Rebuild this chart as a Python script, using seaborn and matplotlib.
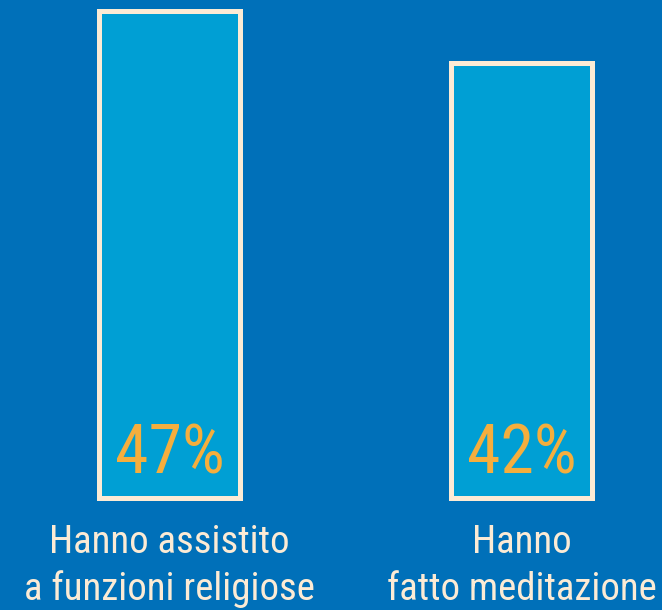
import matplotlib
matplotlib.use("Agg")
import matplotlib.pyplot as plt
import matplotlib.transforms as mtransforms
import seaborn as sns
import pandas as pd
from matplotlib import font_manager

categories = ["Hanno assistito\na funzioni religiose", "Hanno\nfatto meditazione"]
values = [47, 42]
value_labels = ["47%", "42%"]

BG = "#0070B9"
FILL = "#009FD4"
EDGE = "#FCEBD5"
ORANGE = "#F5AE3D"

sns.set_theme(style="white")
plt.rcParams["font.family"] = ["DejaVu Sans"]

# choose narrowest available font
cands = []
for f in font_manager.fontManager.ttflist:
    n = f.name.lower()
    st = str(f.stretch).lower()
    if "narrow" in n or "condensed" in n or "condensed" in st or "narrow" in st:
        if str(f.weight) in ("400", "normal", "regular", "book", "500", "medium") or f.weight == 400:
            if f.style == "normal":
                cands.append(f)
font = None
pref = ["liberation sans narrow", "roboto condensed", "open sans condensed", "noto sans condensed", "dejavu sans"]
for p in pref:
    for f in cands:
        if f.name.lower().startswith(p):
            font = font_manager.FontProperties(fname=f.fname)
            break
    if font is not None:
        break
if font is None:
    font = font_manager.FontProperties(family="DejaVu Sans", stretch="condensed")

df = pd.DataFrame({"cat": categories, "val": values})

fig = plt.figure(figsize=(6.62, 6.10), dpi=100, facecolor=BG)
ax = fig.add_axes([0, 112.5 / 610, 1, 1 - 112.5 / 610])
ax.set_facecolor(BG)

sns.barplot(data=df, x="cat", y="val", ax=ax, color=FILL, width=0.398,
            edgecolor=EDGE, linewidth=3.6, saturation=1)
for p in ax.patches:
    p.set_facecolor(FILL)
    p.set_clip_on(False)

ax.set_xlim(-0.4815, 1.399)
ax.set_ylim(0, 48.07)
ax.set_xlabel("")
ax.set_ylabel("")
ax.set_xticks([])
ax.set_yticks([])
for s in ax.spines.values():
    s.set_visible(False)

H = 610
trans = mtransforms.blended_transform_factory(ax.transData, fig.transFigure)
texts = []
for i, lab in enumerate(value_labels):
    t = ax.text(i, 1 - 474 / H, lab, transform=trans, ha="center", va="baseline",
                color=ORANGE, fontproperties=font.copy())
    t.set_fontsize(45)
    texts.append((t, 93, 45))

line_targets = {0: [233, 288], 1: [95, 262]}
baselines = [553, 600]
for i, cat in enumerate(categories):
    for j, line in enumerate(cat.split("\n")):
        t = fig.text(0, 0, line, transform=trans, ha="center", va="baseline",
                     color=EDGE, fontproperties=font.copy())
        t.set_position((i, 1 - baselines[j] / H))
        t.set_fontsize(31)
        texts.append((t, line_targets[i][j], 31))

fig.canvas.draw()
r = fig.canvas.get_renderer()
vals = [tw / t.get_window_extent(r).width * fs for (t, tw, fs) in texts[:2]]
vs = min(min(vals) * 1.18, 60)
for t, _, _ in texts[:2]:
    t.set_fontsize(vs)
cs = [tw / t.get_window_extent(r).width * fs for (t, tw, fs) in texts[2:]]
c = min(min(cs) * 1.05, 36)
for t, _, _ in texts[2:]:
    t.set_fontsize(c)

fig.savefig("out.png", dpi=100, facecolor=BG)
